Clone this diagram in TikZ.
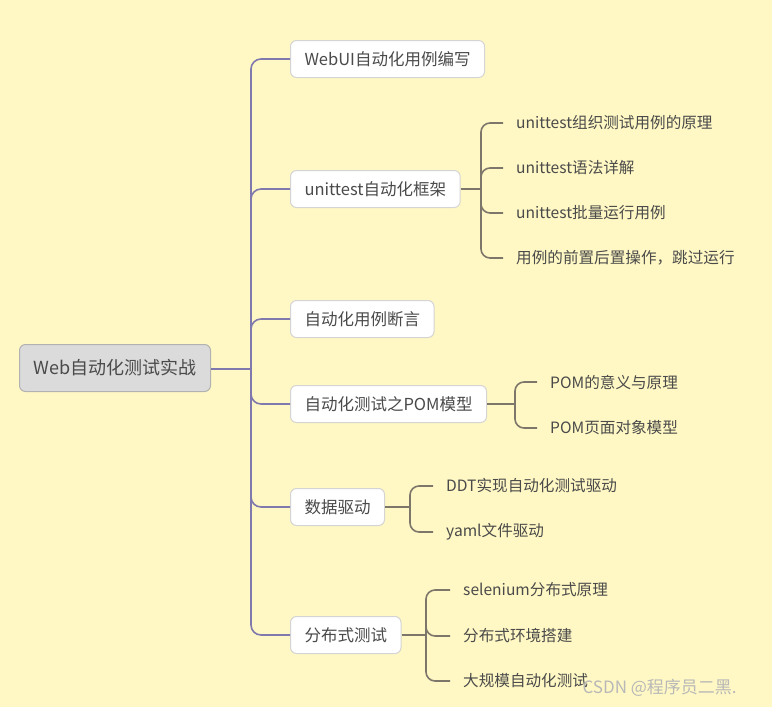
\documentclass[tikz,border=0pt]{standalone}
\usepackage{fontspec}
\setmainfont{Noto Sans CJK SC}
\usetikzlibrary{positioning}
\definecolor{paper}{HTML}{FFF8C4}
\definecolor{trunkc}{HTML}{8079AE}
\definecolor{twigc}{HTML}{7D766A}
\definecolor{ink}{HTML}{4A4A4A}
\tikzset{
  rootbox/.style={draw=black!30,fill=black!14,rounded corners=6pt,line width=1pt,minimum width=191pt,minimum height=47pt,text=ink,font=\fontsize{18}{21}\selectfont},
  topic/.style={draw=black!17,fill=white,rounded corners=6pt,line width=1pt,minimum height=37pt,inner xsep=14pt,text=ink,font=\fontsize{16.5}{19}\selectfont},
  leaf/.style={inner xsep=13pt,inner ysep=2pt,text=ink,font=\fontsize{15.6}{18}\selectfont},
  trunkline/.style={draw=trunkc,line width=1.6pt,rounded corners=10pt},
  twigline/.style={draw=twigc,line width=1.6pt,rounded corners=9pt},
  stamp/.style={text=black!28,font=\fontsize{17}{20}\selectfont}
}
\begin{document}
\begin{tikzpicture}[x=1pt,y=-1pt]
\fill[paper] (0,0) rectangle (772,707);
\useasboundingbox (0,0) rectangle (772,707);
\node[rootbox] (root) at (115,368) {Web自动化测试实战};
\coordinate (fork) at (251,369);
\draw[trunkline] (root.east |- fork) -- (fork);
\foreach \n/\y/\t in {a/59/WebUI自动化用例编写,b/189/unittest自动化框架,c/319/自动化用例断言,d/404/自动化测试之POM模型,e/507/数据驱动,f/635/分布式测试}
{
\node[topic,anchor=west] (\n) at (290,\y) {\t};
\draw[trunkline] (fork) |- (\n.west);
}
% unittest
\coordinate (bj) at (481,189);
\draw[twigline] (b.east) -- (bj);
\foreach \n/\y/\t in {b1/123/unittest组织测试用例的原理,b2/168/unittest语法详解,b3/213/unittest批量运行用例,b4/258/用例的前置后置操作，跳过运行}
{
\node[leaf,anchor=west] (\n) at (503,\y) {\t};
\draw[twigline] (bj) |- (\n.west);
}
% POM
\coordinate (dj) at (515,404);
\draw[twigline] (d.east) -- (dj);
\foreach \n/\y/\t in {d1/382/POM的意义与原理,d2/428/POM页面对象模型}
{
\node[leaf,anchor=west] (\n) at (537,\y) {\t};
\draw[twigline] (dj) |- (\n.west);
}
% ddt
\coordinate (ej) at (410,507);
\draw[twigline] (e.east) -- (ej);
\foreach \n/\y/\t in {e1/486/DDT实现自动化测试驱动,e2/532/yaml文件驱动}
{
\node[leaf,anchor=west] (\n) at (433,\y) {\t};
\draw[twigline] (ej) |- (\n.west);
}
% selenium grid
\coordinate (fj) at (426,635);
\draw[twigline] (f.east) -- (fj);
\foreach \n/\y/\t in {f1/590/selenium分布式原理,f2/636/分布式环境搭建,f3/681/大规模自动化测试}
{
\node[leaf,anchor=west] (\n) at (450,\y) {\t};
\draw[twigline] (fj) |- (\n.west);
}
\node[stamp,anchor=west] (wm) at (579,688) {CSDN @程序员二黑.};
\end{tikzpicture}
\end{document}
